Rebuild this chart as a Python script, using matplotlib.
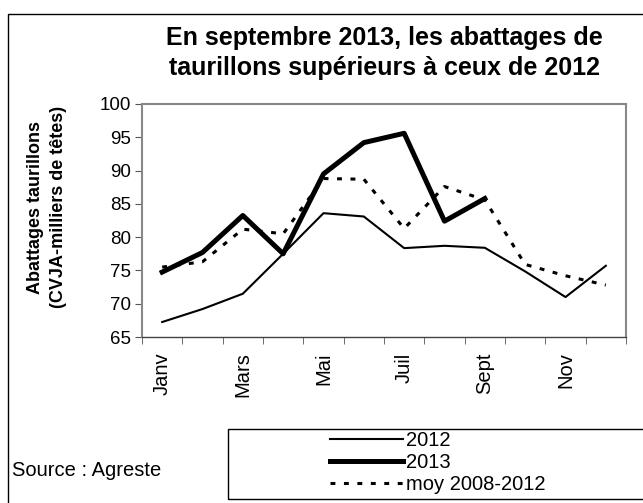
import matplotlib
matplotlib.use("Agg")
import matplotlib.pyplot as plt
from matplotlib.patches import Rectangle

plt.rcParams['font.family'] = ['Liberation Sans', 'DejaVu Sans']

months = ['Janv', 'Févr', 'Mars', 'Avr', 'Mai', 'Juin', 'Juil', 'Août', 'Sept', 'Oct', 'Nov', 'Déc']
shown_labels = ['Janv', '', 'Mars', '', 'Mai', '', 'Juil', '', 'Sept', '', 'Nov', '']
v2012 = [67.25, 69.2, 71.5, 77.5, 83.6, 83.1, 78.35, 78.7, 78.4, 74.85, 71.0, 75.7]
v2013 = [74.75, 77.7, 83.25, 77.5, 89.5, 94.2, 95.6, 82.4, 85.8]
vmoy = [75.5, 76.3, 81.2, 80.5, 88.8, 88.7, 81.3, 87.6, 85.6, 75.9, 74.2, 72.8]
yticks = [65, 70, 75, 80, 85, 90, 95, 100]

W, H = 643, 503
fig = plt.figure(figsize=(W / 100, H / 100), dpi=100)

def fx(px):
    return px / W

def fy(py):
    return 1 - py / H

# outer frame (cut at right/bottom)
fig.patches.append(Rectangle((fx(7.5), fy(520)), fx(700) - fx(7.5), fy(14) - fy(520),
                             transform=fig.transFigure, fill=False, edgecolor='black',
                             linewidth=1.0, zorder=0))

ax = fig.add_axes([fx(142), fy(337), fx(626) - fx(142), fy(104) - fy(337)])
x = list(range(len(months)))
ax.plot(x, v2012, color='black', linewidth=1.5, label='2012')
ax.plot(x[:len(v2013)], v2013, color='black', linewidth=3.6, label='2013')
ax.plot(x, vmoy, color='black', linewidth=2.2, linestyle=(0, (1.6, 2.8)), label='moy 2008-2012')

ax.set_xlim(-0.5, len(months) - 0.5)
ax.set_ylim(65, 100)
ax.set_yticks(yticks)
ax.set_yticklabels([str(v) for v in yticks], fontsize=13.5)
ax.set_xticks(x)
ax.set_xticklabels(shown_labels, rotation=90, fontsize=14.5)
ax.tick_params(axis='x', which='major', length=0, pad=11)
ax.set_xticks([i - 0.5 for i in range(len(months) + 1)], minor=True)
ax.tick_params(axis='x', which='minor', length=5, direction='out', color='#555555')
ax.tick_params(axis='y', length=5, direction='out', color='#555555', pad=3)
for s in ['top', 'right', 'left']:
    ax.spines[s].set_color('#888888')
    ax.spines[s].set_linewidth(1.5)
ax.spines['bottom'].set_color('#444444')
ax.spines['bottom'].set_linewidth(1.0)

fig.text(fx(384.5), fy(53), 'En septembre 2013, les abattages de\ntaurillons supérieurs à ceux de 2012',
         ha='center', va='center', fontsize=18, fontweight='bold', linespacing=1.35)

fig.text(fx(47), fy(207), 'Abattages taurillons\n(CVJA-milliers de têtes)', rotation=90,
         ha='center', va='center', fontsize=13, fontweight='bold', linespacing=1.45)

fig.text(fx(12), fy(471), 'Source : Agreste', ha='left', va='center', fontsize=14.5)

# legend box
fig.patches.append(Rectangle((fx(228), fy(499)), fx(700) - fx(228), fy(429) - fy(499),
                             transform=fig.transFigure, fill=False, edgecolor='black',
                             linewidth=1.0))
handles, labels = ax.get_legend_handles_labels()
fig.legend(handles, labels, loc='upper left', bbox_to_anchor=(fx(330), fy(431)),
           frameon=False, fontsize=14.5, handlelength=3.6, handletextpad=0.15,
           labelspacing=0.15, borderpad=0, borderaxespad=0)

fig.savefig('out.png', dpi=100)
